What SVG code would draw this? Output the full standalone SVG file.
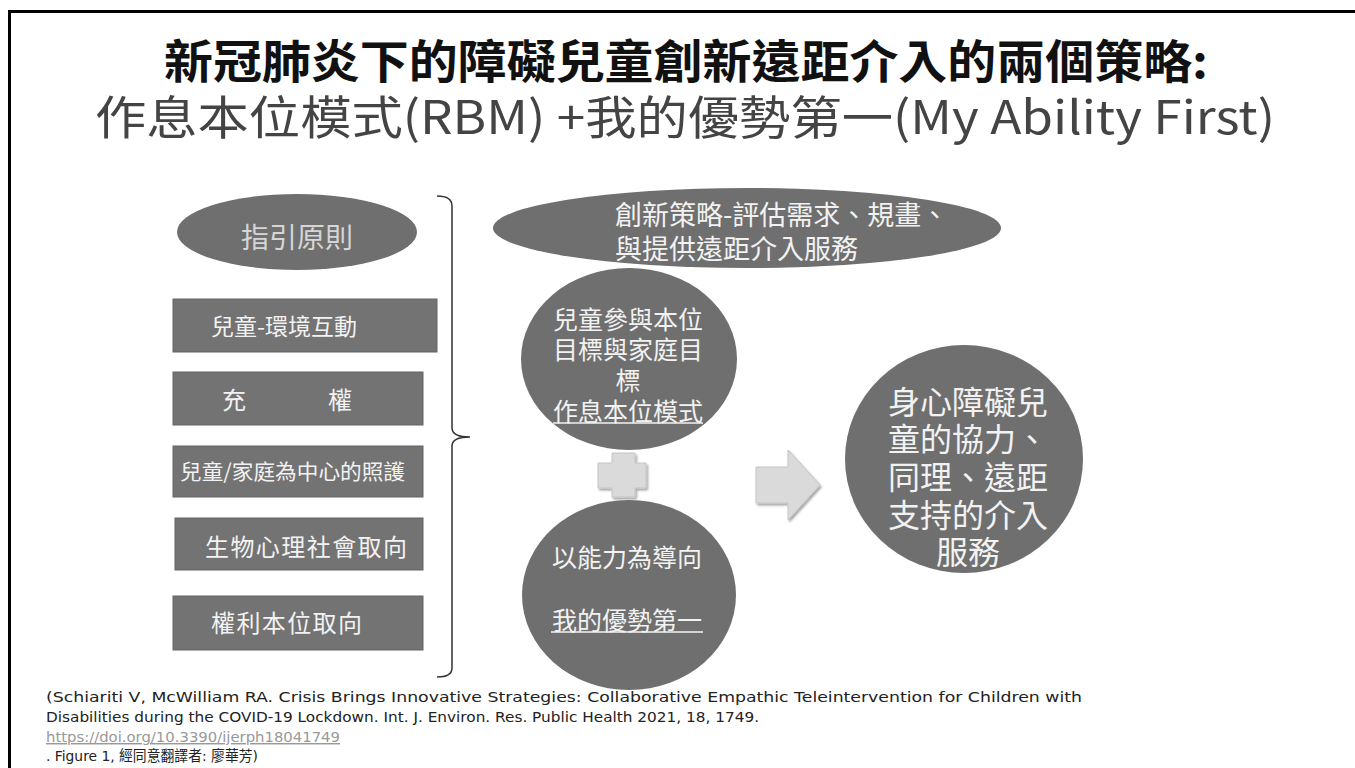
<svg xmlns="http://www.w3.org/2000/svg" width="1355" height="768" viewBox="0 0 1355 768">
<style>
.cjk{font-family:"Noto Sans CJK TC","Noto Sans CJK SC",sans-serif}
.shape{fill:#6f6f6f}
.box{fill:#737373;stroke:#646464;stroke-width:1}
.lbl{fill:#f2f2f2;font-family:"Noto Sans CJK TC","Noto Sans CJK SC",sans-serif;dominant-baseline:central}
.cite{font-family:"DejaVu Sans","Noto Sans CJK TC",sans-serif;font-size:14.5px;fill:#222}
.light{fill:#dadada;stroke:#c4c4c4;stroke-width:1}
</style>
<defs>
<filter id="sh" x="-20%" y="-20%" width="150%" height="150%">
<feDropShadow dx="1.5" dy="2" stdDeviation="1.2" flood-color="#000" flood-opacity="0.35"/>
</filter>
</defs>
<rect width="1355" height="768" fill="#fff"/>
<rect x="9.5" y="11.5" width="1400" height="800" fill="none" stroke="#000" stroke-width="3"/>

<g id="title">
<text class="cjk" x="686" y="78" font-size="46" font-weight="bold" fill="#111" text-anchor="middle" textLength="1044" lengthAdjust="spacingAndGlyphs">新冠肺炎下的障礙兒童創新遠距介入的兩個策略:</text>
<text class="cjk" x="685" y="134" font-size="46" fill="#444" text-anchor="middle" textLength="1180" lengthAdjust="spacingAndGlyphs">作息本位模式(RBM) +我的優勢第一(My Ability First)</text>
</g>

<g id="guiding">
<ellipse class="shape" cx="297" cy="232" rx="120" ry="38"/>
<text class="lbl" x="297" y="236" font-size="28" text-anchor="middle" style="fill:#d6d6d6">指引原則</text>
</g>
<g id="p1">
<rect class="box" x="173" y="299" width="264" height="53"/>
<text class="lbl" x="211" y="325" font-size="23">兒童-環境互動</text>
</g>
<g id="p2">
<rect class="box" x="173" y="372" width="250" height="53"/>
<text class="lbl" y="398" font-size="24"><tspan x="222">充</tspan><tspan x="328">權</tspan></text>
</g>
<g id="p3">
<rect class="box" x="173" y="446" width="250" height="51"/>
<text class="lbl" x="180" y="470" font-size="21" textLength="225" lengthAdjust="spacingAndGlyphs">兒童/家庭為中心的照護</text>
</g>
<g id="p4">
<rect class="box" x="175" y="518" width="248" height="52"/>
<text class="lbl" x="205" y="545" font-size="24" textLength="202" lengthAdjust="spacing">生物心理社會取向</text>
</g>
<g id="p5">
<rect class="box" x="173" y="596" width="250" height="54"/>
<text class="lbl" x="211" y="621" font-size="24" textLength="151" lengthAdjust="spacing">權利本位取向</text>
</g>

<g id="connectors">
<path d="M437 196 Q452 196 452 206 L452 428 Q452 437 470 437 Q452 437 452 446 L452 668 Q452 677 437 677" fill="none" stroke="#333" stroke-width="1.5"/>
<path class="light" filter="url(#sh)" d="M612 453 H635 V463 H646 V488 H635 V497 H612 V488 H598 V463 H612 Z"/>
<path class="light" filter="url(#sh)" d="M756 467 H788 V450 L820 485 L788 520 V503 H756 Z"/>
</g>

<g id="strategy">
<ellipse class="shape" cx="747" cy="228" rx="254" ry="40"/>
<text class="lbl" font-size="27"><tspan x="615" y="213">創新策略-評估需求、規畫、</tspan><tspan x="615" y="247">與提供遠距介入服務</tspan></text>
</g>

<g id="rbm">
<ellipse class="shape" cx="629" cy="359" rx="108" ry="91"/>
<text class="lbl" font-size="25" text-anchor="middle"><tspan x="628" y="318">兒童參與本位</tspan><tspan x="628" y="348">目標與家庭目</tspan><tspan x="628" y="379">標</tspan><tspan x="628" y="410">作息本位模式</tspan></text>
<line x1="553" y1="423" x2="703" y2="423" stroke="#f2f2f2" stroke-width="1.5"/>
</g>

<g id="maf">
<ellipse class="shape" cx="629" cy="595" rx="107" ry="95"/>
<text class="lbl" font-size="25" text-anchor="middle"><tspan x="627" y="556">以能力為導向</tspan><tspan x="627" y="619">我的優勢第一</tspan></text>
<line x1="551" y1="632" x2="703" y2="632" stroke="#f2f2f2" stroke-width="1.5"/>
</g>

<g id="outcome">
<ellipse class="shape" cx="964" cy="459" rx="119" ry="114"/>
<text class="lbl" font-size="32" text-anchor="middle"><tspan x="968" y="400">身心障礙兒</tspan><tspan x="968" y="437">童的協力、</tspan><tspan x="968" y="475">同理、遠距</tspan><tspan x="968" y="513">支持的介入</tspan><tspan x="968" y="550">服務</tspan></text>
</g>

<g id="citation">
<text class="cite" x="46" y="702" textLength="1036" lengthAdjust="spacingAndGlyphs">(Schiariti V, McWilliam RA. Crisis Brings Innovative Strategies: Collaborative Empathic Teleintervention for Children with</text>
<text class="cite" x="46" y="722" textLength="713" lengthAdjust="spacingAndGlyphs">Disabilities during the COVID-19 Lockdown. Int. J. Environ. Res. Public Health 2021, 18, 1749.</text>
<text class="cite" x="46" y="742" textLength="294" lengthAdjust="spacingAndGlyphs" style="fill:#999" text-decoration="underline">https://doi.org/10.3390/ijerph18041749</text>
<text class="cite" x="46" y="761" textLength="212" lengthAdjust="spacingAndGlyphs">. Figure 1, 經同意翻譯者: 廖華芳)</text>
</g>
</svg>
